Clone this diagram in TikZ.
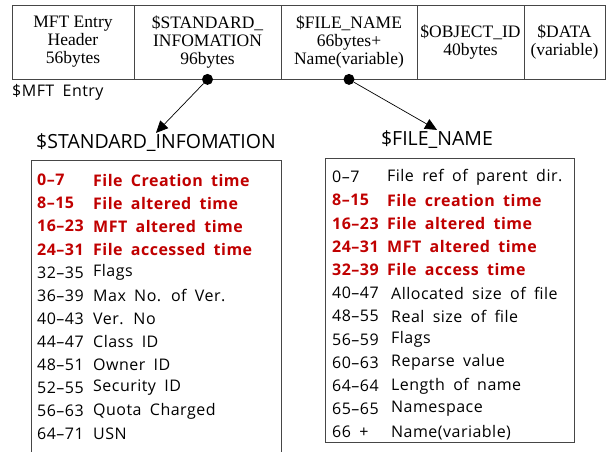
\documentclass[tikz,border=0pt]{standalone}
\usepackage{fontspec}
\setmainfont{Liberation Serif}
\setsansfont{Open Sans}
\newfontfamily\fieldfont{Open Sans}[LetterSpace=3, WordSpace=1.8]
\usetikzlibrary{arrows.meta}
\definecolor{fieldred}{RGB}{192,0,0}
\definecolor{linegray}{RGB}{70,70,70}

\tikzset{
    cell/.style={draw=linegray, line width=0.8pt, inner sep=0pt, minimum height=74pt,
        align=center, font=\fontsize{17.5}{18}\selectfont},
    dot/.style={circle, fill=black, inner sep=0pt, minimum size=11pt},
    title/.style={font=\sffamily\fontsize{19.5}{22}\selectfont, inner sep=1pt},
    field/.style={anchor=west, inner sep=0pt, font=\fieldfont\fontsize{16}{18}\selectfont},
    keyfield/.style={field, text=fieldred, font=\fieldfont\bfseries\fontsize{16}{18}\selectfont},
    frame/.style={draw=linegray, line width=0.8pt, inner sep=0pt, anchor=north west},
    ptr/.style={-{Triangle[length=12pt,width=11pt]}, line width=0.7pt}
}

\begin{document}
\begin{tikzpicture}[x=1pt, y=-1pt]
    \useasboundingbox (0,0) rectangle (613,452);

    % MFT entry (colonne)
    \foreach \l/\r/\t [count=\i] in {12/134/{MFT Entry\\Header\\56bytes},
        134/281/{\$STANDARD\_\\INFOMATION\\96bytes},
        281/417/{\$FILE\_NAME\\66bytes+\\Name(variable)},
        417/524/{\$OBJECT\_ID\\40bytes},
        524/605/{\$DATA\\(variable)}} {
        \node[cell, minimum width={(\r-\l)*1pt}] (c\i) at ({(\l+\r)/2},42) {\t};
    }
    \node[field] (mft) at (12,92) {\$MFT Entry};

    % Puntatori
    \node[dot] (d1) at (c2.south) {};
    \node[dot] (d2) at (c3.south) {};

    \node[title] (t1) at (156,143) {\$STANDARD\_INFOMATION};
    \node[title] (t2) at (437,140) {\$FILE\_NAME};

    \draw[ptr] (d1) -- (t1.north);
    \draw[ptr] (d2) -- (t2.north);

    % $STANDARD_INFOMATION
    \node[frame, minimum width=250pt, minimum height=300pt] (b1) at (31,160) {};
    \foreach \a/\b [count=\i] in {0–7/File Creation time, 8–15/File altered time,
        16–23/MFT altered time, 24–31/File accessed time} {
        \node[keyfield] (sa\i) at (37,{180+(\i-1)*23.1}) {\a};
        \node[keyfield] (sb\i) at (93,{180+(\i-1)*23.1}) {\b};
    }
    \foreach \a/\b [count=\i from 5] in {32–35/Flags, 36–39/Max No. of Ver.,
        40–43/Ver. No, 44–47/Class ID, 48–51/Owner ID, 52–55/Security ID,
        56–63/Quota Charged, 64–71/USN} {
        \node[field] (sa\i) at (37,{180+(\i-1)*23.1}) {\a};
        \node[field] (sb\i) at (93,{180+(\i-1)*23.1}) {\b};
    }

    % $FILE_NAME
    \node[frame, minimum width=249pt, minimum height=284pt] (b2) at (325,158) {};
    \node[field] (fa1) at (332,177) {0–7};
    \node[field] (fb1) at (387,177) {File ref of parent dir.};
    \foreach \a/\b [count=\i from 2] in {8–15/File creation time, 16–23/File altered time,
        24–31/MFT altered time, 32–39/File access time} {
        \node[keyfield] (fa\i) at (332,{177+(\i-1)*23.2}) {\a};
        \node[keyfield] (fb\i) at (387,{177+(\i-1)*23.2}) {\b};
    }
    \foreach \a/\b [count=\i from 6] in {40–47/Allocated size of file, 48–55/Real size of file,
        56–59/Flags, 60–63/Reparse value, 64–64/Length of name, 65–65/Namespace,
        66 +/Name(variable)} {
        \node[field] (fa\i) at (332,{177+(\i-1)*23.2}) {\a};
        \node[field] (fb\i) at (391,{177+(\i-1)*23.2}) {\b};
    }
\end{tikzpicture}
\end{document}
